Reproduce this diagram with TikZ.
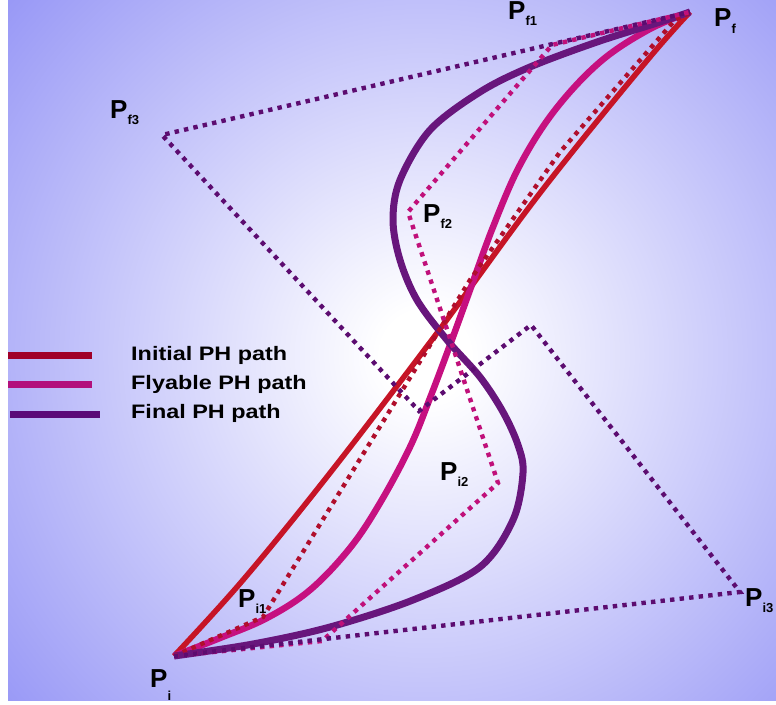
\documentclass[tikz,border=0pt]{standalone}
\usepackage{fontspec}
\setmainfont{Liberation Sans}
\definecolor{bgc}{RGB}{150,150,246}
\definecolor{cred}{RGB}{198,20,38}
\definecolor{cmag}{RGB}{198,16,128}
\definecolor{cpur}{RGB}{104,22,124}
\definecolor{dred}{RGB}{176,14,44}
\definecolor{dmag}{RGB}{192,16,122}
\definecolor{dpur}{RGB}{92,12,112}
\definecolor{lred}{RGB}{160,0,40}
\definecolor{lmag}{RGB}{178,16,124}
\definecolor{lpur}{RGB}{90,10,120}
\pgfdeclareradialshading{bgshade}{\pgfpoint{0bp}{0bp}}{color(0bp)=(white); color(2bp)=(white); color(25bp)=(bgc); color(50bp)=(bgc)}
\tikzset{
  curvepath/.style={line width=#1, line cap=butt, line join=round},
  dotpath/.style={line width=4.4pt, dash pattern=on 4.4pt off 5.2pt},
  lbl/.style={inner sep=0pt, anchor=base west, font=\bfseries\fontsize{26}{26}\selectfont},
  legtext/.style={inner sep=0pt, anchor=base west, font=\bfseries\fontsize{19.5}{19.5}\selectfont},
  legline/.style={line width=7pt, line cap=butt},
}
\newcommand{\lsub}[2][-6pt]{\raisebox{#1}{\fontsize{13}{13}\selectfont #2}}
\begin{document}
\begin{tikzpicture}[x=1pt,y=-1pt]
\useasboundingbox (0,0) rectangle (776,704);
\fill[white] (0,0) rectangle (776,704);
\begin{scope}
  \clip (8,0) rectangle (776,700);
  \shade[shading=bgshade] (425,355) circle[radius=560pt];
\end{scope}

% key points
\coordinate (Pi) at (174,656);
\coordinate (Pf) at (690,12);
\coordinate (Pi1c) at (263,617);
\coordinate (Pi2c) at (498,483);
\coordinate (Pi3c) at (740,592);
\coordinate (Pf2c) at (408,212);
\coordinate (Pf3c) at (162,135);
\coordinate (M1) at (322,641);
\coordinate (M4) at (552,45);
\coordinate (Q2) at (531,325);
\coordinate (Q3) at (419,411);
\coordinate (R2) at (470,280);
\coordinate (R3) at (560,152);
\coordinate (R4) at (675,20);

% solid curves
\draw[curvepath=5.5pt, cred] plot[smooth, tension=0.6] coordinates {(Pi) (243,580) (330,473) (437,333) (540,193) (645,63) (Pf)};
\draw[curvepath=6.5pt, cmag] plot[smooth, tension=0.6] coordinates {(Pi) (220,638) (267,618) (310,590) (350,548) (380,503) (410,447) (430,398) (450,345) (470,290) (493,227) (520,165) (555,110) (600,62) (648,30) (Pf)};
\draw[curvepath=7pt, cpur] plot[smooth, tension=0.55] coordinates {(Pi) (253,644) (330,627) (413,600) (480,567) (513,520) (523,473) (518,445) (503,412) (480,377) (447,340) (417,300) (400,260) (393,220) (400,180) (430,130) (480,92) (530,67) (597,42) (657,23) (Pf)};

% control polygons
\draw[dotpath, dred] (Pi) -- (Pi1c) -- (R2) -- (R3) -- (R4) -- (Pf);
\draw[dotpath, dmag] (Pi) -- (M1) -- (Pi2c) -- (Pf2c) -- (M4) -- (Pf);
\draw[dotpath, dpur] (Pi) -- (Pi3c) -- (Q2) -- (Q3) -- (Pf3c) -- (Pf);

% labels
\node[lbl] (lPf3) at (110,118) {P\lsub{f3}};
\node[lbl] (lPf1) at (508,19) {P\lsub{f1}};
\node[lbl] (lPf) at (714,27) {P\lsub{f}};
\node[lbl] (lPf2) at (423,222) {P\lsub{f2}};
\node[lbl] (lPi2) at (440,480) {P\lsub{i2}};
\node[lbl] (lPi1) at (238,607) {P\lsub{i1}};
\node[lbl] (lPi) at (150,687) {P\lsub[-13pt]{i}};
\node[lbl] (lPi3) at (745,606) {P\lsub{i3}};

% legend
\coordinate (a1) at (8,355); \coordinate (b1) at (92,355);
\coordinate (a2) at (8,384); \coordinate (b2) at (92,384);
\coordinate (a3) at (10,414); \coordinate (b3) at (100,414);
\draw[legline, lred] (a1) -- (b1);
\draw[legline, lmag] (a2) -- (b2);
\draw[legline, lpur] (a3) -- (b3);
\node[legtext] (t1) at (131,360) {\scalebox{1.2}[1]{Initial PH path}};
\node[legtext] (t2) at (131,389) {\scalebox{1.2}[1]{Flyable PH path}};
\node[legtext] (t3) at (131,418) {\scalebox{1.2}[1]{Final PH path}};
\end{tikzpicture}
\end{document}
